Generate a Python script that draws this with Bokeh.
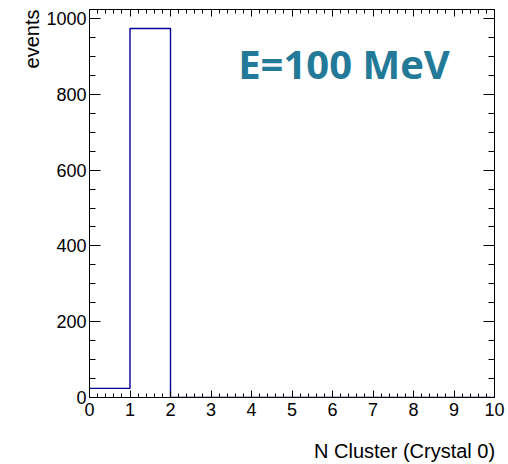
import numpy as np
from bokeh.plotting import figure
from bokeh.models import LinearAxis, Label, Range1d, FixedTicker, Title
from bokeh.embed import file_html
from bokeh.resources import INLINE

# Data
bin_edges = [0, 1, 2, 3, 4, 5, 6, 7, 8, 9, 10]
counts = [24, 974, 0, 0, 0, 0, 0, 0, 0, 0]
x_ticks = [0, 1, 2, 3, 4, 5, 6, 7, 8, 9, 10]
y_ticks = [0, 200, 400, 600, 800, 1000]
x_label = "N Cluster (Crystal 0)"
y_label = "events"
annotation = "E=100 MeV"

FONT = "Liberation Sans"

p = figure(width=508, height=464, output_backend="svg", toolbar_location=None,
           x_range=Range1d(0, 10), y_range=Range1d(0, 1024),
           x_axis_location=None, y_axis_location=None,
           min_border_left=89, min_border_right=14, min_border_top=9, min_border_bottom=67)
p.grid.visible = False
p.outline_line_color = "black"
p.outline_line_width = 1
p.background_fill_color = "white"
p.border_fill_color = "white"

x_minor = [round(v * 0.2, 2) for v in range(0, 51)]
y_minor = list(range(0, 1025, 50))


def style_axis(ax, major, minor, tin, min_in, show_labels):
    ax.ticker = FixedTicker(ticks=major, minor_ticks=minor)
    ax.major_tick_in = tin
    ax.major_tick_out = 0
    ax.minor_tick_in = min_in
    ax.minor_tick_out = 0
    ax.axis_line_color = "black"
    ax.major_tick_line_color = "black"
    ax.minor_tick_line_color = "black"
    ax.major_label_text_font = FONT
    ax.major_label_text_font_size = "18px" if show_labels else "0px"
    ax.major_label_text_color = "black" if show_labels else None


bottom = LinearAxis()
style_axis(bottom, x_ticks, x_minor, 7, 4, True)
bottom.major_label_standoff = 5
p.add_layout(bottom, "below")

# x-axis title, right-aligned at the end of the axis (ROOT style)
x_title_center = 7.78
xt = LinearAxis(ticker=FixedTicker(ticks=[x_title_center], minor_ticks=[]),
                major_label_overrides={x_title_center: x_label})
xt.axis_line_color = None
xt.major_tick_line_color = None
xt.minor_tick_line_color = None
xt.major_tick_in = 0
xt.major_tick_out = 0
xt.minor_tick_in = 0
xt.minor_tick_out = 0
xt.major_label_standoff = 21
xt.major_label_text_font = FONT
xt.major_label_text_font_size = "20px"
xt.major_label_text_color = "black"
p.add_layout(xt, "below")

top = LinearAxis()
style_axis(top, x_ticks, x_minor, 7, 4, False)
top.major_label_standoff = 0
p.add_layout(top, "above")

left = LinearAxis()
style_axis(left, y_ticks, y_minor, 11, 6, True)
left.major_label_standoff = 3
p.add_layout(left, "left")

right = LinearAxis()
style_axis(right, y_ticks, y_minor, 11, 6, False)
right.major_label_standoff = 0
p.add_layout(right, "right")

# Histogram outline
step_x = bin_edges
step_y = counts + [counts[-1]]
p.step(step_x, step_y, mode="after", line_color="#000099", line_width=1.4)

# y-axis title (ROOT style: top aligned)
p.add_layout(Title(text=y_label, align="right", text_font=FONT, text_font_size="20px",
                   text_font_style="normal", text_color="black", standoff=2, offset=0), "left")

# Annotation
p.add_layout(Label(x=3.67, y=882, text=annotation, text_align="left", text_baseline="alphabetic",
                   text_font="Open Sans", text_font_style="bold", text_font_size="40px",
                   text_color="#237a98"))

open("out.html", "w").write(file_html(p, INLINE))
